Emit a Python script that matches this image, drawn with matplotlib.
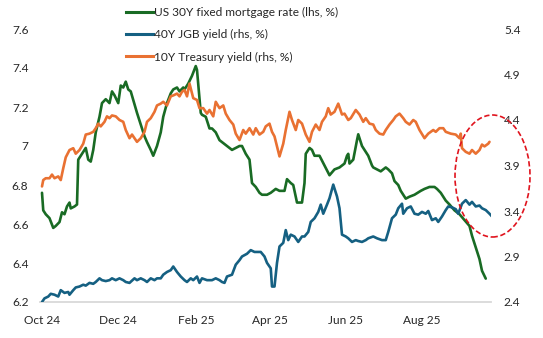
import matplotlib
matplotlib.use("Agg")
import matplotlib.pyplot as plt
import matplotlib.dates as mdates
import pandas as pd
from matplotlib.patches import Ellipse
from matplotlib.lines import Line2D
from matplotlib.ticker import FuncFormatter, FixedLocator

plt.rcParams["font.family"] = ["Lato", "DejaVu Sans"]

# US 30Y fixed mortgage rate (lhs, %)
mortgage_dates = [
    "2024-10-01", "2024-10-02", "2024-10-04", "2024-10-07", "2024-10-10", "2024-10-12",
    "2024-10-15", "2024-10-17", "2024-10-19", "2024-10-21", "2024-10-23", "2024-10-24",
    "2024-10-27", "2024-10-29", "2024-10-30", "2024-11-01", "2024-11-04", "2024-11-05",
    "2024-11-07", "2024-11-09", "2024-11-11", "2024-11-13", "2024-11-16", "2024-11-18",
    "2024-11-21", "2024-11-24", "2024-11-26", "2024-11-28", "2024-12-01", "2024-12-03",
    "2024-12-05", "2024-12-07", "2024-12-09", "2024-12-11", "2024-12-16", "2024-12-19",
    "2024-12-22", "2024-12-24", "2024-12-27", "2024-12-29", "2025-01-01", "2025-01-04",
    "2025-01-06", "2025-01-09", "2025-01-12", "2025-01-14", "2025-01-17", "2025-01-19",
    "2025-01-22", "2025-01-23", "2025-01-26", "2025-01-29", "2025-02-01", "2025-02-02",
    "2025-02-05", "2025-02-06", "2025-02-09", "2025-02-12", "2025-02-14", "2025-02-17",
    "2025-02-20", "2025-02-22", "2025-02-26", "2025-03-02", "2025-03-05", "2025-03-08",
    "2025-03-10", "2025-03-13", "2025-03-16", "2025-03-18", "2025-03-21", "2025-03-24",
    "2025-03-26", "2025-03-30", "2025-04-02", "2025-04-06", "2025-04-09", "2025-04-13",
    "2025-04-15", "2025-04-18", "2025-04-20", "2025-04-23", "2025-04-27", "2025-04-29",
    "2025-04-30", "2025-05-03", "2025-05-05", "2025-05-07", "2025-05-11", "2025-05-15",
    "2025-05-19", "2025-05-23", "2025-05-27", "2025-05-31", "2025-06-02", "2025-06-03",
    "2025-06-04", "2025-06-07", "2025-06-10", "2025-06-11", "2025-06-14", "2025-06-16",
    "2025-06-19", "2025-06-22", "2025-06-23", "2025-06-26", "2025-06-29", "2025-07-03",
    "2025-07-05", "2025-07-08", "2025-07-10", "2025-07-13", "2025-07-15", "2025-07-19",
    "2025-07-22", "2025-07-26", "2025-07-31", "2025-08-03", "2025-08-07", "2025-08-11",
    "2025-08-13", "2025-08-16", "2025-08-20", "2025-08-23", "2025-08-27", "2025-08-31",
    "2025-09-04", "2025-09-08", "2025-09-10", "2025-09-13", "2025-09-16", "2025-09-18",
    "2025-09-21",
]
mortgage_rate = [
    6.76, 6.67, 6.65, 6.63, 6.58, 6.59,
    6.61, 6.66, 6.65, 6.69, 6.71, 6.68,
    6.69, 6.70, 6.93, 6.95, 6.98, 6.99,
    6.93, 6.92, 6.98, 7.07, 7.15, 7.22,
    7.24, 7.22, 7.28, 7.26, 7.22, 7.31,
    7.30, 7.33, 7.29, 7.28, 7.17, 7.11,
    7.05, 7.02, 6.98, 6.95, 7.00, 7.07,
    7.15, 7.22, 7.27, 7.29, 7.30, 7.28,
    7.30, 7.29, 7.32, 7.36, 7.41, 7.39,
    7.17, 7.16, 7.15, 7.09, 7.09, 7.07,
    7.03, 7.02, 7.00, 6.98, 6.99, 7.00,
    7.00, 6.96, 6.93, 6.81, 6.79, 6.76,
    6.75, 6.75, 6.76, 6.78, 6.77, 6.77,
    6.83, 6.81, 6.80, 6.71, 6.71, 6.81,
    6.96, 6.99, 6.98, 6.95, 6.95, 6.90,
    6.85, 6.88, 6.89, 6.91, 6.95, 6.96,
    6.91, 6.93, 7.03, 7.06, 7.00, 6.98,
    6.95, 6.90, 6.89, 6.88, 6.87, 6.89,
    6.88, 6.86, 6.82, 6.80, 6.77, 6.73,
    6.74, 6.75, 6.77, 6.78, 6.79, 6.79,
    6.78, 6.76, 6.72, 6.70, 6.67, 6.65,
    6.62, 6.59, 6.54, 6.48, 6.42, 6.36,
    6.32,
]

# 40Y JGB yield (rhs, %)
jgb_dates = [
    "2024-10-01", "2024-10-03", "2024-10-06", "2024-10-08", "2024-10-11", "2024-10-14",
    "2024-10-16", "2024-10-19", "2024-10-22", "2024-10-23", "2024-10-26", "2024-10-28",
    "2024-10-31", "2024-11-03", "2024-11-05", "2024-11-08", "2024-11-11", "2024-11-13",
    "2024-11-16", "2024-11-18", "2024-11-21", "2024-11-24", "2024-11-26", "2024-11-29",
    "2024-12-02", "2024-12-05", "2024-12-07", "2024-12-10", "2024-12-14", "2024-12-16",
    "2024-12-19", "2024-12-22", "2024-12-24", "2024-12-27", "2024-12-30", "2025-01-01",
    "2025-01-04", "2025-01-06", "2025-01-09", "2025-01-12", "2025-01-14", "2025-01-17",
    "2025-01-20", "2025-01-23", "2025-01-25", "2025-01-28", "2025-01-30", "2025-02-02",
    "2025-02-04", "2025-02-06", "2025-02-10", "2025-02-14", "2025-02-17", "2025-02-20",
    "2025-02-22", "2025-02-24", "2025-02-26", "2025-03-02", "2025-03-05", "2025-03-08",
    "2025-03-10", "2025-03-14", "2025-03-17", "2025-03-20", "2025-03-22", "2025-03-25",
    "2025-03-28", "2025-03-30", "2025-04-02", "2025-04-03", "2025-04-05", "2025-04-07",
    "2025-04-09", "2025-04-12", "2025-04-14", "2025-04-16", "2025-04-18", "2025-04-21",
    "2025-04-24", "2025-04-27", "2025-04-29", "2025-05-02", "2025-05-04", "2025-05-07",
    "2025-05-10", "2025-05-12", "2025-05-14", "2025-05-17", "2025-05-19", "2025-05-22",
    "2025-05-25", "2025-05-27", "2025-05-29", "2025-06-01", "2025-06-03", "2025-06-06",
    "2025-06-09", "2025-06-11", "2025-06-14", "2025-06-17", "2025-06-19", "2025-06-23",
    "2025-06-26", "2025-06-30", "2025-07-03", "2025-07-05", "2025-07-08", "2025-07-11",
    "2025-07-13", "2025-07-16", "2025-07-17", "2025-07-20", "2025-07-23", "2025-07-26",
    "2025-07-29", "2025-08-01", "2025-08-04", "2025-08-06", "2025-08-09", "2025-08-12",
    "2025-08-14", "2025-08-17", "2025-08-20", "2025-08-22", "2025-08-25", "2025-08-28",
    "2025-08-30", "2025-09-02", "2025-09-05", "2025-09-08", "2025-09-10", "2025-09-13",
    "2025-09-16", "2025-09-18", "2025-09-21", "2025-09-24", "2025-09-26",
]
jgb_yield = [
    2.40, 2.44, 2.46, 2.49, 2.48, 2.46,
    2.53, 2.50, 2.51, 2.48, 2.53, 2.56,
    2.57, 2.59, 2.58, 2.61, 2.60, 2.62,
    2.66, 2.64, 2.63, 2.64, 2.66, 2.64,
    2.66, 2.64, 2.62, 2.61, 2.66, 2.64,
    2.66, 2.64, 2.62, 2.66, 2.64, 2.66,
    2.66, 2.70, 2.73, 2.75, 2.79, 2.73,
    2.68, 2.64, 2.62, 2.66, 2.64, 2.68,
    2.61, 2.66, 2.64, 2.64, 2.66, 2.64,
    2.62, 2.61, 2.68, 2.70, 2.81, 2.86,
    2.90, 2.93, 2.97, 2.95, 2.95, 2.95,
    2.90, 2.83, 2.77, 2.57, 2.57, 2.83,
    3.01, 3.05, 3.19, 3.08, 3.14, 3.12,
    3.06, 3.12, 3.12, 3.17, 3.28, 3.32,
    3.39, 3.47, 3.37, 3.47, 3.54, 3.69,
    3.56, 3.43, 3.14, 3.12, 3.10, 3.06,
    3.08, 3.07, 3.06, 3.08, 3.10, 3.12,
    3.10, 3.08, 3.08, 3.17, 3.32, 3.36,
    3.43, 3.48, 3.37, 3.43, 3.45, 3.37,
    3.36, 3.39, 3.37, 3.40, 3.30, 3.32,
    3.28, 3.34, 3.41, 3.45, 3.44, 3.42,
    3.37, 3.48, 3.52, 3.47, 3.50, 3.45,
    3.46, 3.43, 3.41, 3.37, 3.34,
]

# 10Y Treasury yield (rhs, %)
ust_dates = [
    "2024-10-01", "2024-10-02", "2024-10-04", "2024-10-07", "2024-10-09", "2024-10-11",
    "2024-10-14", "2024-10-16", "2024-10-18", "2024-10-20", "2024-10-23", "2024-10-26",
    "2024-10-28", "2024-10-31", "2024-11-03", "2024-11-05", "2024-11-08", "2024-11-11",
    "2024-11-13", "2024-11-15", "2024-11-17", "2024-11-20", "2024-11-22", "2024-11-24",
    "2024-11-26", "2024-11-29", "2024-12-02", "2024-12-05", "2024-12-07", "2024-12-10",
    "2024-12-12", "2024-12-14", "2024-12-16", "2024-12-19", "2024-12-22", "2024-12-24",
    "2024-12-27", "2024-12-30", "2025-01-01", "2025-01-04", "2025-01-06", "2025-01-09",
    "2025-01-12", "2025-01-14", "2025-01-17", "2025-01-19", "2025-01-21", "2025-01-23",
    "2025-01-25", "2025-01-27", "2025-01-30", "2025-02-02", "2025-02-04", "2025-02-07",
    "2025-02-10", "2025-02-12", "2025-02-15", "2025-02-17", "2025-02-20", "2025-02-23",
    "2025-02-25", "2025-02-28", "2025-03-03", "2025-03-05", "2025-03-08", "2025-03-11",
    "2025-03-13", "2025-03-16", "2025-03-19", "2025-03-21", "2025-03-24", "2025-03-27",
    "2025-03-29", "2025-04-01", "2025-04-03", "2025-04-05", "2025-04-07", "2025-04-09",
    "2025-04-12", "2025-04-14", "2025-04-17", "2025-04-19", "2025-04-22", "2025-04-24",
    "2025-04-27", "2025-04-30", "2025-05-03", "2025-05-05", "2025-05-08", "2025-05-11",
    "2025-05-13", "2025-05-16", "2025-05-18", "2025-05-20", "2025-05-23", "2025-05-26",
    "2025-05-29", "2025-05-31", "2025-06-03", "2025-06-05", "2025-06-09", "2025-06-12",
    "2025-06-15", "2025-06-17", "2025-06-20", "2025-06-23", "2025-06-25", "2025-06-28",
    "2025-07-01", "2025-07-03", "2025-07-06", "2025-07-09", "2025-07-11", "2025-07-14",
    "2025-07-17", "2025-07-19", "2025-07-22", "2025-07-25", "2025-07-27", "2025-07-30",
    "2025-08-03", "2025-08-06", "2025-08-10", "2025-08-12", "2025-08-15", "2025-08-18",
    "2025-08-20", "2025-08-24", "2025-08-28", "2025-08-31", "2025-09-01", "2025-09-02",
    "2025-09-05", "2025-09-08", "2025-09-10", "2025-09-13", "2025-09-16", "2025-09-18",
    "2025-09-20", "2025-09-23", "2025-09-24",
]
ust_yield = [
    3.67, 3.74, 3.76, 3.76, 3.80, 3.76,
    3.78, 3.74, 3.87, 3.99, 4.07, 4.09,
    4.03, 4.07, 4.14, 4.24, 4.25, 4.27,
    4.31, 4.36, 4.33, 4.38, 4.44, 4.42,
    4.45, 4.44, 4.40, 4.38, 4.29, 4.20,
    4.24, 4.20, 4.16, 4.20, 4.27, 4.38,
    4.42, 4.49, 4.56, 4.58, 4.60, 4.56,
    4.66, 4.67, 4.69, 4.66, 4.71, 4.73,
    4.66, 4.80, 4.64, 4.62, 4.53, 4.53,
    4.47, 4.51, 4.44, 4.60, 4.53, 4.56,
    4.47, 4.40, 4.35, 4.25, 4.18, 4.29,
    4.25, 4.31, 4.24, 4.31, 4.24, 4.27,
    4.33, 4.36, 4.27, 4.22, 4.11, 4.00,
    4.14, 4.29, 4.49, 4.40, 4.29, 4.40,
    4.36, 4.24, 4.16, 4.27, 4.35, 4.29,
    4.38, 4.44, 4.53, 4.46, 4.49, 4.58,
    4.46, 4.47, 4.40, 4.42, 4.51, 4.46,
    4.38, 4.42, 4.36, 4.35, 4.29, 4.25,
    4.24, 4.29, 4.35, 4.40, 4.44, 4.47,
    4.42, 4.38, 4.35, 4.40, 4.38, 4.29,
    4.20, 4.25, 4.29, 4.27, 4.31, 4.31,
    4.27, 4.25, 4.24, 4.20, 4.25, 4.09,
    4.05, 4.03, 4.07, 4.03, 4.07, 4.13,
    4.11, 4.14, 4.16,
]

series_labels = [
    "US 30Y fixed mortgage rate (lhs, %)",
    "40Y JGB yield (rhs, %)",
    "10Y Treasury yield (rhs, %)",
]
left_ticks = [6.2, 6.4, 6.6, 6.8, 7.0, 7.2, 7.4, 7.6]
right_ticks = [2.4, 2.9, 3.4, 3.9, 4.4, 4.9, 5.4]
month_ticks = ["2024-10-01", "2024-12-01", "2025-02-01", "2025-04-01", "2025-06-01", "2025-08-01"]

GREEN = "#196B24"
BLUE = "#156082"
ORANGE = "#E97132"
TEXT = "#262626"
FS = 8.6

W, H = 543, 338
fig = plt.figure(figsize=(W / 100, H / 100), dpi=100)
ax = fig.add_axes([40 / W, 1 - 302 / H, (491 - 40) / W, (302 - 29) / H])
ax2 = ax.twinx()

lw = 1.9
ax.plot(pd.to_datetime(mortgage_dates), mortgage_rate, color=GREEN, lw=lw,
        solid_joinstyle="round", solid_capstyle="round")
ax2.plot(pd.to_datetime(jgb_dates), jgb_yield, color=BLUE, lw=lw,
         solid_joinstyle="round", solid_capstyle="round")
ax2.plot(pd.to_datetime(ust_dates), ust_yield, color=ORANGE, lw=lw,
         solid_joinstyle="round", solid_capstyle="round")

start = pd.Timestamp("2024-10-01")
ax.set_xlim(start - pd.Timedelta(days=1.6), start + pd.Timedelta(days=359.2))
ax.set_ylim(left_ticks[0], left_ticks[-1])
ax2.set_ylim(right_ticks[0], right_ticks[-1])

ax.yaxis.set_major_locator(FixedLocator(left_ticks))
ax2.yaxis.set_major_locator(FixedLocator(right_ticks))
fmt = FuncFormatter(lambda v, p: f"{v:g}")
ax.yaxis.set_major_formatter(fmt)
ax2.yaxis.set_major_formatter(fmt)

ax.xaxis.set_major_locator(FixedLocator(mdates.date2num(pd.to_datetime(month_ticks))))
ax.xaxis.set_major_formatter(mdates.DateFormatter("%b %y"))

ax.tick_params(axis="x", length=0, pad=9.0, labelsize=FS, labelcolor=TEXT)
ax.tick_params(axis="y", length=0, pad=8.3, labelsize=FS, labelcolor=TEXT)
ax2.tick_params(axis="y", length=0, pad=9.3, labelsize=FS, labelcolor=TEXT)

for a in (ax, ax2):
    for side in ("left", "right", "top", "bottom"):
        a.spines[side].set_visible(False)
ax.spines["bottom"].set_visible(True)
ax.spines["bottom"].set_color("#d9d9d9")
ax.spines["bottom"].set_linewidth(1.3)
ax.spines["bottom"].set_zorder(0)

# Legend in the top-centre
handles = [Line2D([], [], color=c, lw=2.2) for c in (GREEN, BLUE, ORANGE)]
fig.legend(handles, series_labels, loc="upper left",
           bbox_to_anchor=(124 / W, 1 - 5.0 / H), frameon=False, fontsize=FS,
           handlelength=2.2, handletextpad=0.15, labelspacing=0.92,
           borderaxespad=0, borderpad=0.2, labelcolor=TEXT)

# Dashed ring highlighting the latest moves
ring = Ellipse((492.5 / W, 1 - 176 / H), 75 / W, 122 / H, transform=fig.transFigure,
               fill=False, edgecolor="#E0141E", lw=1.2, linestyle=(0, (3.2, 1.6)),
               clip_on=False, zorder=10)
fig.add_artist(ring)

fig.savefig("out.png", dpi=100)
